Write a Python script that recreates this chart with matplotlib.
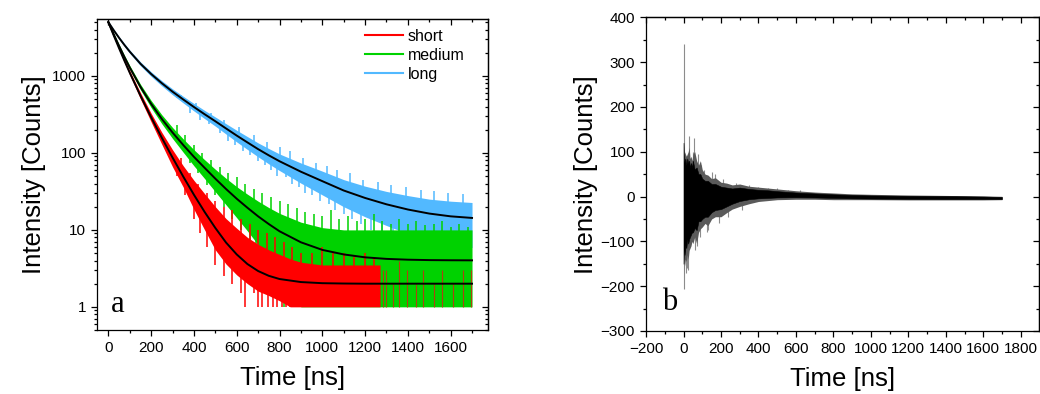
import numpy as np
import matplotlib.pyplot as plt
from matplotlib.lines import Line2D
from matplotlib.ticker import MultipleLocator, LogLocator, NullFormatter

plt.rcParams['font.family'] = ['Liberation Sans', 'DejaVu Sans']

# ---- panel a: decay curves ----
fit_t = [0, 25, 50, 75, 100, 150, 200, 250, 300, 350, 400, 450, 500, 550, 600,
         650, 700, 750, 800, 900, 1000, 1100, 1200, 1300, 1400, 1500, 1600, 1700]
short_fit = [5000, 3362, 2290, 1578, 1101, 554, 290, 157, 87, 49.3, 28.6, 17.1, 10.6, 6.85, 4.8,
             3.6, 2.92, 2.53, 2.30, 2.10, 2.03, 2.01, 2.0, 2.0, 2.0, 2.0, 2.0, 2.0]
medium_fit = [5000, 3480, 2457, 1764, 1287, 722, 434, 276, 184, 126.7, 89, 64, 46.3, 34, 25.4,
              19.4, 15.0, 11.9, 9.6, 6.9, 5.5, 4.8, 4.4, 4.2, 4.1, 4.05, 4.03, 4.02]
long_fit = [5000, 3927, 3129, 2528, 2070, 1442, 1060, 805, 625, 495, 395, 318, 258, 208, 168,
            137, 112, 93, 78, 57, 43, 32.5, 26, 21.5, 18.4, 16.3, 15.0, 14.3]

# dense core of each noisy trace (upper / lower edge)
long_hi = [5156, 4065, 3252, 2638, 2170, 1526, 1132, 867, 680, 544, 439, 357, 293, 240, 197,
           163, 135, 114, 97, 74, 58, 45, 37, 31.6, 27.9, 25.1, 23.6, 22.7]
long_lo = [4844, 3789, 3006, 2418, 1970, 1358, 988, 743, 570, 446, 351, 279, 223, 176, 139,
           111, 89, 72, 59, 40.5, 28.5, 20, 14.8, 11.4, 8.9, 7.5, 6.4, 5.9]
medium_hi = [5156, 3610, 2566, 1856, 1366, 781, 480, 313, 214, 152, 110, 81.6, 61.3, 46.8, 36.4,
             29.1, 23.6, 19.5, 16.4, 12.6, 10.7, 10, 10, 10, 10, 10, 10, 10]
medium_lo = [4844, 3350, 2348, 1672, 1208, 663, 388, 239, 154, 102, 68, 46.4, 31.3, 21.2, 14.4,
             9.7, 6.4, 4.3, 2.8, 1, 1, 1, 1, 1, 1, 1, 1, 1]
short_t = [0, 25, 50, 75, 100, 150, 200, 250, 300, 350, 400, 450, 500, 550, 600,
           650, 700, 750, 800, 850, 900, 1000, 1100, 1200, 1270]
short_hi = [5156, 3490, 2395, 1665, 1174, 606, 327, 185, 110, 68, 44, 29.5, 20, 14, 10.5,
            8, 6.5, 5.5, 4.8, 4.2, 3.8, 3.5, 3.5, 3.5, 3.5]
short_lo = [4844, 3234, 2185, 1491, 1028, 502, 253, 129, 66, 36, 18.5, 10, 5.5, 3.6, 2.6,
            2, 1.6, 1.4, 1.2, 1, 1, 1, 1, 1, 1]

# single excursions of the noisy traces: time, bottom, top
long_spk_t = [320, 380, 430, 470, 520, 560, 590, 630, 660, 700, 730, 760, 790, 830, 860, 890,
              920, 950, 990, 1030, 1060, 1100, 1140, 1180, 1230, 1280, 1330, 1380, 1430, 1480,
              1530, 1580, 1620, 1650, 1670, 1690,
              340, 410, 480, 540, 610, 680, 740, 800, 850, 910, 970, 1020, 1070, 1130, 1190,
              1260, 1320, 1390, 1460, 1520, 1590, 1660]
long_spk_lo = [510, 330, 270, 240, 180, 145, 125, 105, 95, 78, 70, 60, 50, 48, 40, 36,
               30, 28, 24, 22, 18, 16, 14, 12, 10, 9, 8, 7, 6.5, 6,
               5.5, 5, 4.5, 2.5, 1.5, 1.2,
               500, 390, 280, 215, 165, 120, 95, 78, 70, 56, 47, 42, 35, 31, 27,
               24, 21, 19, 17, 16.5, 15.5, 15]
long_spk_hi = [600, 400, 330, 290, 240, 200, 170, 145, 135, 112, 100, 92, 80, 72, 65, 58,
               54, 50, 44, 40, 35, 32, 30, 26, 25, 22, 20, 19, 18, 17,
               16, 15.5, 15, 15, 14.5, 14.3,
               560, 450, 335, 270, 215, 170, 140, 118, 105, 85, 75, 68, 60, 55, 45,
               42, 38, 36, 33, 32, 30, 29]
medium_spk_t = [330, 380, 420, 460, 500, 540, 580, 620, 660, 690, 720, 750, 780, 820,
                320, 360, 400, 440, 480, 520, 560, 600, 640, 680, 720, 760, 800, 840, 880,
                920, 960, 1000, 1040, 1080, 1120, 1160, 1200, 1240, 1280, 1320, 1360, 1400,
                1440, 1480, 1520, 1560, 1600, 1640, 1680]
medium_spk_lo = [125, 75, 55, 38, 28, 20, 14, 10, 7, 5, 3.5, 2.5, 1.5, 1,
                 180, 125, 90, 68, 52, 40, 32, 26, 20, 17, 15, 12, 10, 8.5, 7.5,
                 7, 6.5, 6, 5.5, 5, 5, 4.5, 4.5, 4.5, 4.2, 4.2, 4.1, 4.1,
                 4, 4, 4, 4, 4, 4, 4]
medium_spk_hi = [150, 95, 72, 55, 42, 32, 25, 21, 18, 15, 13, 11, 10, 9,
                 230, 170, 125, 100, 80, 66, 55, 48, 40, 34, 30, 27, 24, 22, 19,
                 17, 16, 15, 18, 14, 15, 13, 14, 16, 13, 12, 14, 12,
                 13, 11.5, 12, 13, 11, 12, 11]
short_spk_t = [320, 360, 400, 430, 460, 500, 540, 580, 620, 640, 680, 700, 720, 745, 770, 790,
               810, 830, 850,
               340, 380, 420, 460, 500, 540, 580, 620, 660, 700, 740, 780, 820, 860, 900,
               950, 1000, 1050, 1100, 1150, 1200, 1240]
short_spk_lo = [50, 28, 14, 9, 6, 3.5, 2.5, 2, 1.5, 1, 1.5, 1, 1, 1, 1, 1,
                1, 1, 1,
                55, 35, 24, 17, 12, 9, 7, 6, 5, 4, 3.5, 3, 3, 3, 3,
                3, 3, 3, 3, 3, 3, 3]
short_spk_hi = [80, 45, 25, 18, 14, 10, 7, 5.5, 4.5, 4, 3.5, 3, 3, 3, 3, 3,
                2.8, 2.5, 2.5,
                85, 55, 40, 30, 24, 20, 18, 14, 12, 10, 9, 8, 7, 6, 5,
                5, 6, 5, 5, 4.5, 5, 4.5]
short_tail_t = [1285, 1300, 1330, 1360, 1395, 1440, 1470, 1520, 1560, 1610, 1660, 1695]
short_tail_hi = [3, 3, 2, 4, 3, 2, 3, 2, 3, 2, 3, 3]

# ---- panel b: residuals ----
res_t = [0, 3, 6, 10, 15, 20, 25, 30, 35, 40, 45, 50, 60, 70, 80, 90, 100, 115, 130, 150,
         170, 200, 230, 260, 300, 350, 400, 450, 500, 600, 700, 800, 900, 1000, 1200, 1400,
         1600, 1700]
res_hi = [120, 60, 80, 85, 70, 85, 75, 80, 65, 75, 65, 80, 60, 65, 50, 50, 40, 35, 35, 28,
          28, 22, 20, 18, 20, 17, 15, 14, 12, 9, 7, 5, 3.5, 2.5, 1.5, 1, 0, -1]
res_lo = [-150, -100, -130, -110, -115, -95, -105, -95, -90, -85, -80, -80, -70, -75, -55,
          -55, -50, -45, -45, -35, -30, -28, -22, -16, -10, -6, -4, -3, -2, -1.5, -2, -3, -4,
          -4.5, -5, -5.5, -5.5, -5.5]
res_out_hi = [122, 90, 100, 95, 90, 95, 100, 110, 85, 90, 80, 95, 100, 80, 70, 80, 60,
              50, 48, 40, 42, 32, 30, 26, 28, 23, 21, 19, 17, 13, 10, 8, 6, 5, 3.5, 2.5, 1.5, 0.5]
res_out_lo = [-180, -130, -155, -140, -145, -130, -140, -120, -115, -110, -100, -105, -90,
              -105, -80, -72, -68, -60, -65, -50, -45, -45, -36, -28, -22, -16, -11, -9, -7,
              -6, -6, -7, -7, -7, -7.5, -7.5, -7.5, -7]
res_spk_t = [2, 2, 12, 18, 25, 30, 48, 55, 62, 70, 78, 88, 95, 110, 125, 133, 150, 170, 190,
             210, 240, 280, 310, 350, 400, 450, 500, 560, 620]
res_spk_v = [340, -206, -170, -160, -165, 135, 100, 130, -120, -110, 95, -90, 70, 60, -80, -75,
             55, 50, -60, 40, -45, 30, -30, 25, 22, 20, 18, 15, 14]

RED, GREEN, BLUE = '#ff0000', '#00d200', '#52b9ff'

fig = plt.figure(figsize=(10.4, 3.94), dpi=100)
ax1 = fig.add_axes([0.0933, 0.1624, 0.3760, 0.7894])
ax2 = fig.add_axes([0.6212, 0.1599, 0.3779, 0.7962])

# --- a ---  (blue at the back, red in front, fits on top)
ax1.fill_between(fit_t, long_lo, long_hi, color=BLUE, lw=0, zorder=1.0)
ax1.vlines(long_spk_t, long_spk_lo, long_spk_hi, color=BLUE, lw=1.1, zorder=1.1)
ax1.fill_between(fit_t, medium_lo, medium_hi, color=GREEN, lw=0, zorder=1.2)
ax1.vlines(medium_spk_t, medium_spk_lo, medium_spk_hi, color=GREEN, lw=1.1, zorder=1.3)
ax1.fill_between(short_t, short_lo, short_hi, color=RED, lw=0, zorder=1.4)
ax1.vlines(short_spk_t, short_spk_lo, short_spk_hi, color=RED, lw=1.1, zorder=1.5)
ax1.vlines(short_tail_t, 1, short_tail_hi, color='#b04010', lw=0.8, zorder=1.5)
for f in (short_fit, medium_fit, long_fit):
    ax1.plot(fit_t, f, color='black', lw=1.4, zorder=3)

ax1.set_yscale('log')
ax1.set_xlim(-53, 1775)
ax1.set_ylim(0.5, 5500)
ax1.set_yticks([1, 10, 100, 1000])
ax1.set_yticklabels(['1', '10', '100', '1000'])
ax1.yaxis.set_minor_locator(LogLocator(base=10, subs=np.arange(2, 10)))
ax1.yaxis.set_minor_formatter(NullFormatter())
ax1.xaxis.set_minor_locator(MultipleLocator(100))
ax1.set_xticks(range(0, 1601, 200))
ax1.set_xlabel('Time [ns]', fontsize=18.5, labelpad=8)
ax1.set_ylabel('Intensity [Counts]', fontsize=18.5, labelpad=4)
ax1.text(0.036, 0.059, 'a', transform=ax1.transAxes, fontsize=22,
         family='Liberation Serif', ha='left', va='baseline')

handles = [Line2D([], [], color=RED, lw=1.5), Line2D([], [], color=GREEN, lw=1.5),
           Line2D([], [], color=BLUE, lw=1.5)]
ax1.legend(handles, ['short', 'medium', 'long'], loc='upper right',
           bbox_to_anchor=(0.965, 1.0), frameon=False, fontsize=11.5,
           handlelength=2.4, handletextpad=0.3, labelspacing=0.25, borderaxespad=0.2)

# --- b ---
ax2.vlines(res_spk_t, 0, res_spk_v, color='#8c8c8c', lw=0.8, zorder=1.0)
ax2.fill_between(res_t, res_out_lo, res_out_hi, color='#5a5a5a', lw=0, zorder=1.1)
ax2.fill_between(res_t, res_lo, res_hi, color='black', lw=0.4, zorder=1.2)
ax2.set_xlim(-200, 1898)
ax2.set_ylim(-300, 400)
ax2.xaxis.set_major_locator(MultipleLocator(200))
ax2.xaxis.set_minor_locator(MultipleLocator(100))
ax2.yaxis.set_major_locator(MultipleLocator(100))
ax2.yaxis.set_minor_locator(MultipleLocator(50))
ax2.set_xlabel('Time [ns]', fontsize=18.5, labelpad=8)
ax2.set_ylabel('Intensity [Counts]', fontsize=18.5, labelpad=2)
ax2.text(0.04, 0.067, 'b', transform=ax2.transAxes, fontsize=22,
         family='Liberation Serif', ha='left', va='baseline')

# bottom / left ticks point out, mirrored top / right ticks point in
for ax in (ax1, ax2):
    for s in ax.spines.values():
        s.set_linewidth(0.9)
    ax.tick_params(which='both', direction='out', labelsize=11, width=0.9)
    ax.tick_params(which='major', length=4.5)
    ax.tick_params(which='minor', length=2.5)

    top = ax.secondary_xaxis('top')
    top.set_xticks(ax.get_xticks())
    top.xaxis.set_minor_locator(ax.xaxis.get_minor_locator())
    top.tick_params(which='both', direction='in', labeltop=False, width=0.9)
    top.tick_params(which='major', length=4.5)
    top.tick_params(which='minor', length=2.5)
    top.spines['top'].set_linewidth(0.9)

    right = ax.secondary_yaxis('right')
    right.set_yticks(ax.get_yticks())
    right.yaxis.set_minor_locator(ax.yaxis.get_minor_locator())
    right.tick_params(which='both', direction='in', labelright=False, width=0.9)
    right.tick_params(which='major', length=4.5)
    right.tick_params(which='minor', length=2.5)
    right.spines['right'].set_linewidth(0.9)

ax1.set_ylim(0.5, 5500)
fig.savefig('out.png', dpi=100)
